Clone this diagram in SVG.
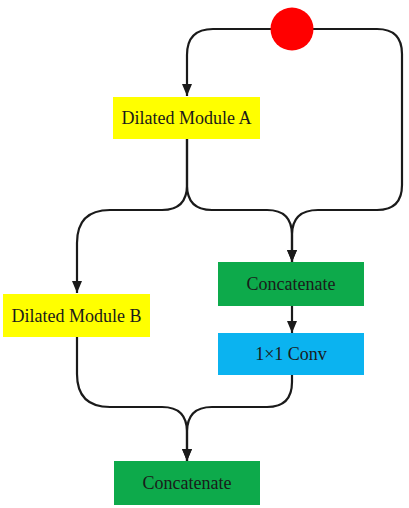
<svg xmlns="http://www.w3.org/2000/svg" width="409" height="508" viewBox="0 0 409 508">
<style>
.lbl{font-family:"Liberation Serif","Times New Roman",serif;font-size:18px;fill:#1a1a1a;text-anchor:middle;dominant-baseline:central}
.edge{fill:none;stroke:#1a1a1a;stroke-width:2.2}
.yellow{fill:#FFFF00}
.green{fill:#0DAA4B}
.blue{fill:#0BB3F0}
</style>
<defs>
<marker id="arr" markerUnits="userSpaceOnUse" markerWidth="12" markerHeight="10" refX="12" refY="5" orient="auto">
<path d="M0,0 L12,5 L0,10 z" fill="#1a1a1a"/>
</marker>
</defs>
<rect width="409" height="508" fill="#ffffff"/>
<g id="edges">
<path class="edge" marker-end="url(#arr)" d="M272,29 H213 Q187,29 187,55 V96"/>
<path class="edge" marker-end="url(#arr)" d="M312,29 H377 Q402,29 402,54 V185 Q402,210 377,210 H318 Q292,210 292,235 V262"/>
<path class="edge" marker-end="url(#arr)" d="M187,139 V185 Q187,210 162,210 H110 Q77,210 77,243 V293"/>
<path class="edge" marker-end="url(#arr)" d="M187,139 V185 Q187,210 212,210 H267 Q292,210 292,235 V262"/>
<path class="edge" marker-end="url(#arr)" d="M292,306 V333"/>
<path class="edge" marker-end="url(#arr)" d="M77,337 V374 Q77,407 110,407 H162 Q187,407 187,432 V461"/>
<path class="edge" marker-end="url(#arr)" d="M292,375 V382 Q292,407 267,407 H212 Q187,407 187,432 V461"/>
</g>
<g id="input">
<circle cx="292" cy="29" r="21.5" fill="#FF0000"/>
</g>
<g id="moduleA">
<rect class="yellow" x="113" y="97" width="147" height="42"/>
<text class="lbl" x="186.5" y="118">Dilated Module A</text>
</g>
<g id="moduleB">
<rect class="yellow" x="3" y="294" width="147" height="43"/>
<text class="lbl" x="76.5" y="315.5">Dilated Module B</text>
</g>
<g id="concat1">
<rect class="green" x="218" y="262" width="146" height="44"/>
<text class="lbl" x="291" y="284">Concatenate</text>
</g>
<g id="conv">
<rect class="blue" x="218" y="333" width="146" height="42"/>
<text class="lbl" x="291" y="354">1×1 Conv</text>
</g>
<g id="concat2">
<rect class="green" x="114" y="461" width="146" height="44"/>
<text class="lbl" x="187" y="483">Concatenate</text>
</g>
</svg>
